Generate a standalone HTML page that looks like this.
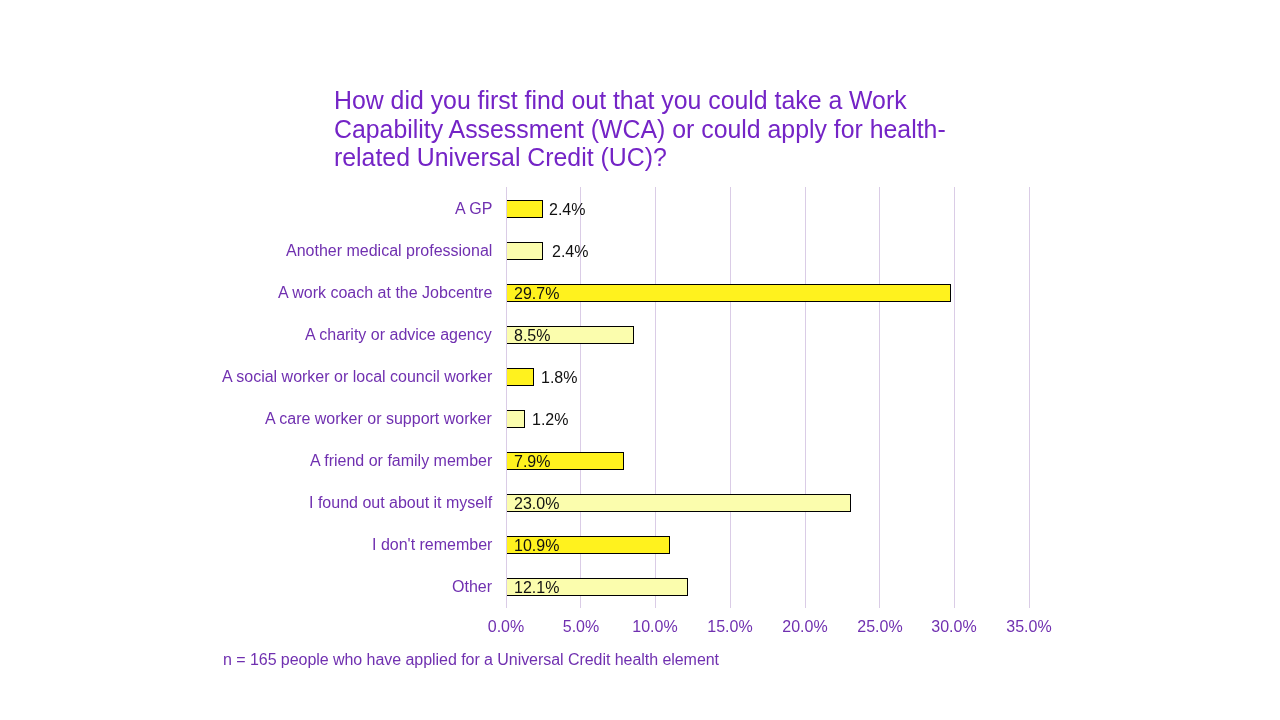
<!DOCTYPE html>
<html><head><meta charset="utf-8"><style>
html,body{margin:0;padding:0;background:#fff;width:1280px;height:720px;overflow:hidden;}
body{position:relative;font-family:"Liberation Sans",sans-serif;}
.t,.c,.d,.a,.n{will-change:transform;}
.t{position:absolute;left:334px;top:86.5px;font-size:24.85px;line-height:28.5px;color:#7424C6;white-space:nowrap;}
.g{position:absolute;top:187px;height:421px;width:1px;background:#DACCE6;}
.b{position:absolute;left:506px;height:18px;box-sizing:border-box;border:1px solid #000;border-left:0;}
.ax{z-index:2;}
.c{position:absolute;right:788px;font-size:16px;line-height:16px;color:#7030B0;white-space:nowrap;text-align:right;}
.d{position:absolute;font-size:16px;line-height:16px;color:#111;white-space:nowrap;}
.a{position:absolute;top:618.7px;width:100px;text-align:center;font-size:16px;line-height:16px;color:#7030B0;white-space:nowrap;}
.n{position:absolute;left:223px;top:652px;letter-spacing:-0.05px;font-size:16px;line-height:16px;color:#7030B0;white-space:nowrap;}
</style></head><body>
<div class="t">How did you first find out that you could take a Work<br>Capability Assessment (WCA) or could apply for health-<br>related Universal Credit (UC)?</div>
<div class="g ax" style="left:506px"></div>
<div class="g" style="left:580px"></div>
<div class="g" style="left:655px"></div>
<div class="g" style="left:730px"></div>
<div class="g" style="left:805px"></div>
<div class="g" style="left:879px"></div>
<div class="g" style="left:954px"></div>
<div class="g" style="left:1029px"></div>
<div class="b" style="top:200px;width:37px;background:#FFF21E"></div>
<div class="c" style="top:201.3px">A GP</div>
<div class="d" style="top:202.3px;left:549px">2.4%</div>
<div class="b" style="top:242px;width:37px;background:#FBFDAD"></div>
<div class="c" style="top:243.3px">Another medical professional</div>
<div class="d" style="top:244.3px;left:552px">2.4%</div>
<div class="b" style="top:284px;width:445px;background:#FFF21E"></div>
<div class="c" style="top:285.3px">A work coach at the Jobcentre</div>
<div class="d" style="top:286.3px;left:514px">29.7%</div>
<div class="b" style="top:326px;width:128px;background:#FBFDAD"></div>
<div class="c" style="top:327.3px">A charity or advice agency</div>
<div class="d" style="top:328.3px;left:514px">8.5%</div>
<div class="b" style="top:368px;width:28px;background:#FFF21E"></div>
<div class="c" style="top:369.3px">A social worker or local council worker</div>
<div class="d" style="top:370.3px;left:541px">1.8%</div>
<div class="b" style="top:410px;width:19px;background:#FBFDAD"></div>
<div class="c" style="top:411.3px">A care worker or support worker</div>
<div class="d" style="top:412.3px;left:532px">1.2%</div>
<div class="b" style="top:452px;width:118px;background:#FFF21E"></div>
<div class="c" style="top:453.3px">A friend or family member</div>
<div class="d" style="top:454.3px;left:514px">7.9%</div>
<div class="b" style="top:494px;width:345px;background:#FBFDAD"></div>
<div class="c" style="top:495.3px">I found out about it myself</div>
<div class="d" style="top:496.3px;left:514px">23.0%</div>
<div class="b" style="top:536px;width:164px;background:#FFF21E"></div>
<div class="c" style="top:537.3px">I don&#39;t remember</div>
<div class="d" style="top:538.3px;left:514px">10.9%</div>
<div class="b" style="top:578px;width:182px;background:#FBFDAD"></div>
<div class="c" style="top:579.3px">Other</div>
<div class="d" style="top:580.3px;left:514px">12.1%</div>
<div class="a" style="left:456.0px">0.0%</div>
<div class="a" style="left:530.7px">5.0%</div>
<div class="a" style="left:605.4px">10.0%</div>
<div class="a" style="left:680.1px">15.0%</div>
<div class="a" style="left:754.9px">20.0%</div>
<div class="a" style="left:829.6px">25.0%</div>
<div class="a" style="left:904.3px">30.0%</div>
<div class="a" style="left:979.0px">35.0%</div>
<div class="n">n = 165 people who have applied for a Universal Credit health element</div>
</body></html>
